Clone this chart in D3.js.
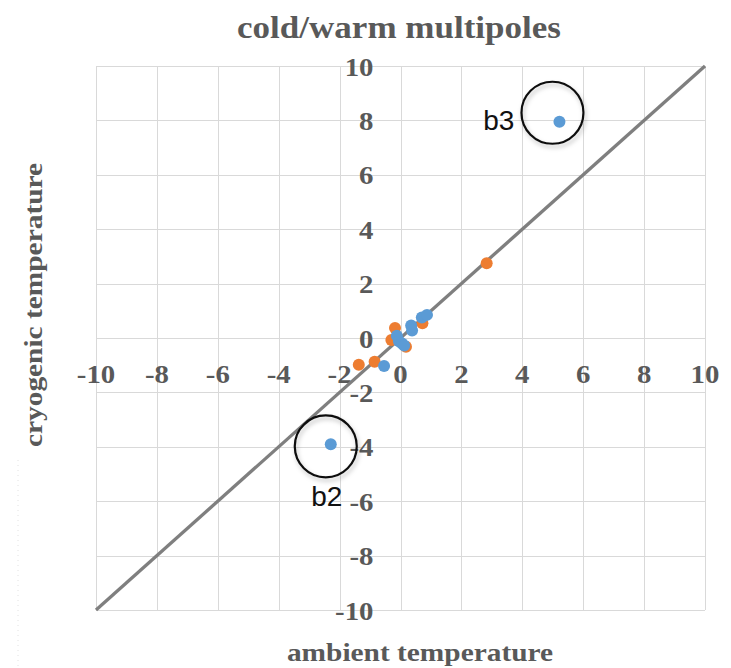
<!DOCTYPE html>
<html>
<head>
<meta charset="utf-8">
<script src="https://cdn.jsdelivr.net/npm/d3@7"></script>
<style>
  html, body { margin: 0; padding: 0; background: #fff; }
  svg { display: block; }
</style>
</head>
<body>
<svg id="chart" width="731" height="668"></svg>
<script>
// Multipole values: ambient (x) vs cryogenic (y) temperature
const ambientBlue   = [-2.29, -0.54, -0.12, -0.05, 0.05, 0.12, 0.35, 0.38, 0.70, 0.87, 5.22];
const cryogenicBlue = [-3.91, -1.03,  0.08, -0.12, -0.20, -0.28, 0.46, 0.28, 0.75, 0.85, 7.95];
const ambientOrange   = [-1.37, -0.85, -0.18, -0.30, 0.18, 0.72, 2.83];
const cryogenicOrange = [-0.98, -0.87,  0.37, -0.07, -0.32, 0.54, 2.75];

// Highlighted harmonics
const highlightNames = ["b2", "b3"];
const highlightX = [-2.29, 5.22];
const highlightY = [-3.91, 7.95];

// Axis ticks
const tickValues = [-10, -8, -6, -4, -2, 0, 2, 4, 6, 8, 10];
const identityLine = [-10, 10];

const svg = d3.select("#chart");
const x = d3.scaleLinear().domain([-10, 10]).range([96, 705]);
const y = d3.scaleLinear().domain([-10, 10]).range([610, 66]);

const serif = "'Liberation Serif', 'Times New Roman', serif";
const textGray = "#595959";
const stretch = 1.13;

// faint dotted frame edge at the far left
svg.append("line")
  .attr("x1", 18).attr("x2", 18).attr("y1", 460).attr("y2", 668)
  .attr("stroke", "#e2e2e2").attr("stroke-width", 1)
  .attr("stroke-dasharray", "1,4");

// gridlines
const grid = svg.append("g").attr("stroke", "#d9d9d9").attr("stroke-width", 1);
grid.selectAll("line.v").data(tickValues).join("line").attr("class", "v")
  .attr("x1", d => Math.round(x(d)) + 0.5).attr("x2", d => Math.round(x(d)) + 0.5)
  .attr("y1", y(10)).attr("y2", y(-10));
grid.selectAll("line.h").data(tickValues).join("line").attr("class", "h")
  .attr("y1", d => Math.round(y(d)) + 0.5).attr("y2", d => Math.round(y(d)) + 0.5)
  .attr("x1", x(-10)).attr("x2", x(10));

// tick labels along the axes crossing at the origin
const ticks = svg.append("g")
  .attr("font-family", serif).attr("font-weight", "bold")
  .attr("font-size", 25.5).attr("fill", textGray);
ticks.selectAll("text.xt").data(tickValues).join("text").attr("class", "xt")
  .attr("text-anchor", "middle")
  .attr("transform", d => `translate(${x(d)},${y(0) + 45}) scale(${stretch},1)`)
  .text(d => d);
ticks.selectAll("text.yt").data(tickValues).join("text").attr("class", "yt")
  .attr("text-anchor", "end")
  .attr("transform", d => `translate(${x(0) - 27},${y(d) + 9.5}) scale(${stretch},1)`)
  .text(d => d);

// identity line y = x
svg.append("line")
  .attr("x1", x(identityLine[0])).attr("y1", y(identityLine[0]))
  .attr("x2", x(identityLine[1])).attr("y2", y(identityLine[1]))
  .attr("stroke", "#7f7f7f").attr("stroke-width", 3.3);

// data points
const orangePts = ambientOrange.map((v, i) => [v, cryogenicOrange[i]]);
const bluePts = ambientBlue.map((v, i) => [v, cryogenicBlue[i]]);
svg.append("g").selectAll("circle").data(orangePts).join("circle")
  .attr("cx", d => x(d[0])).attr("cy", d => y(d[1])).attr("r", 6)
  .attr("fill", "#ed7d31");
svg.append("g").selectAll("circle").data(bluePts).join("circle")
  .attr("cx", d => x(d[0])).attr("cy", d => y(d[1])).attr("r", 6)
  .attr("fill", "#5b9bd5");

// rings and labels around highlighted harmonics
const defs = svg.append("defs");
const f = defs.append("filter").attr("id", "ringShadow")
  .attr("x", "-30%").attr("y", "-30%").attr("width", "160%").attr("height", "160%");
f.append("feDropShadow").attr("dx", 1.5).attr("dy", 3).attr("stdDeviation", 2)
  .attr("flood-color", "#000").attr("flood-opacity", 0.25);

const ringOffset = { b2: [-5, 2], b3: [-7, -9] };
const highlights = highlightNames.map((n, i) => ({ name: n, vx: highlightX[i], vy: highlightY[i] }));
const ann = svg.append("g");
ann.selectAll("circle").data(highlights).join("circle")
  .attr("cx", d => x(d.vx) + ringOffset[d.name][0])
  .attr("cy", d => y(d.vy) + ringOffset[d.name][1])
  .attr("r", 31)
  .attr("fill", "none").attr("stroke", "#111").attr("stroke-width", 2.2)
  .attr("filter", "url(#ringShadow)");
ann.selectAll("text").data(highlights).join("text")
  .attr("font-family", "'Liberation Sans', Arial, sans-serif")
  .attr("font-size", 28).attr("fill", "#111")
  .attr("text-anchor", d => d.name === "b3" ? "end" : "middle")
  .attr("x", d => {
    const cx = x(d.vx) + ringOffset[d.name][0];
    return d.name === "b3" ? cx - 38 : cx + 1;
  })
  .attr("y", d => {
    const cy = y(d.vy) + ringOffset[d.name][1];
    return d.name === "b3" ? cy + 17 : cy + 60;
  })
  .text(d => d.name);

// chart title and axis titles
svg.append("text")
  .attr("font-family", serif).attr("font-weight", "bold")
  .attr("font-size", 31).attr("fill", textGray).attr("text-anchor", "middle")
  .attr("transform", `translate(399,38) scale(${stretch},1)`)
  .text("cold/warm multipoles");
svg.append("text")
  .attr("font-family", serif).attr("font-weight", "bold")
  .attr("font-size", 26).attr("fill", textGray).attr("text-anchor", "middle")
  .attr("transform", `translate(420,661) scale(${stretch},1)`)
  .text("ambient temperature");
svg.append("text")
  .attr("font-family", serif).attr("font-weight", "bold")
  .attr("font-size", 26).attr("fill", textGray).attr("text-anchor", "middle")
  .attr("transform", `translate(42,305) rotate(-90) scale(${stretch},1)`)
  .text("cryogenic temperature");
</script>
</body>
</html>
